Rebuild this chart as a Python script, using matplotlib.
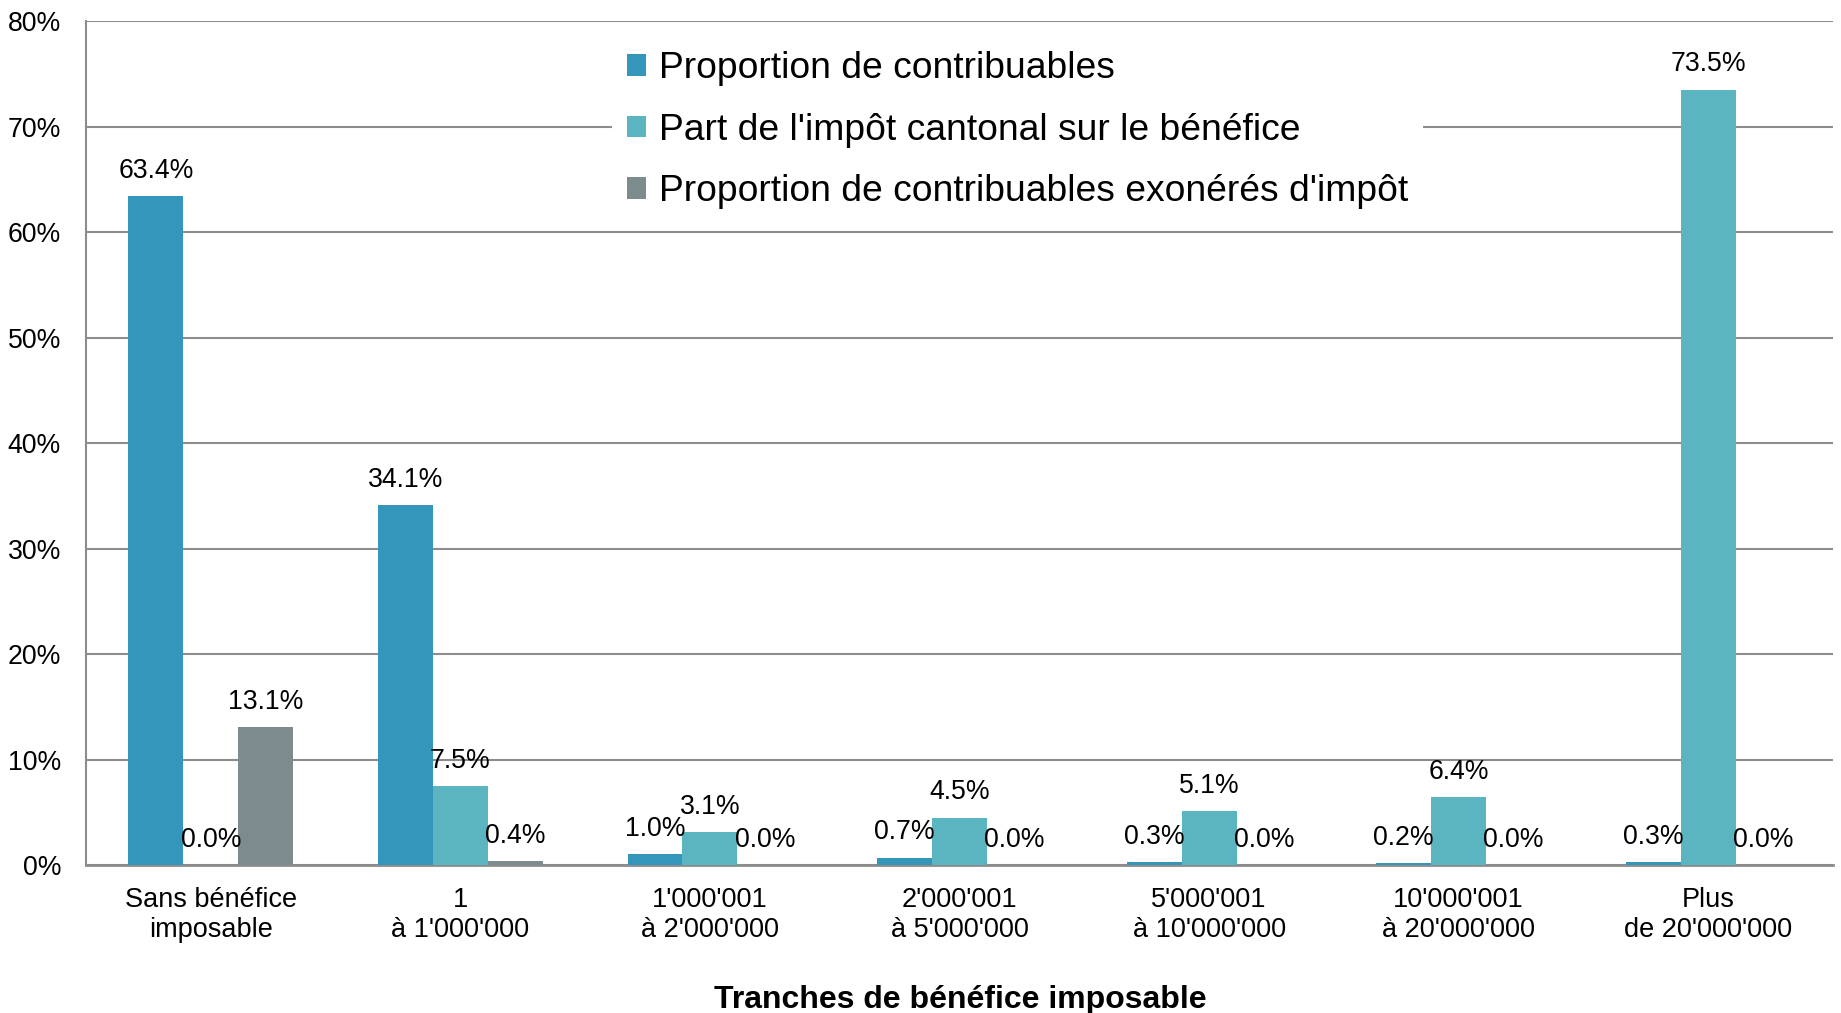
import numpy as np
import matplotlib
matplotlib.use('Agg')
import matplotlib.pyplot as plt
from matplotlib.patches import Patch

plt.rcParams['font.family'] = ['Liberation Sans', 'DejaVu Sans']

# donnees
categories = ['Sans bénéfice\nimposable', '1\nà 1\'000\'000', '1\'000\'001\nà 2\'000\'000',
              '2\'000\'001\nà 5\'000\'000', '5\'000\'001\nà 10\'000\'000',
              '10\'000\'001\nà 20\'000\'000', 'Plus\nde 20\'000\'000']
contribuables = [63.4, 34.1, 1.0, 0.7, 0.3, 0.2, 0.3]
impot_cantonal = [0.0, 7.5, 3.1, 4.5, 5.1, 6.4, 73.5]
exoneres = [13.1, 0.4, 0.0, 0.0, 0.0, 0.0, 0.0]
series_noms = ['Proportion de contribuables',
               "Part de l'impôt cantonal sur le bénéfice",
               "Proportion de contribuables exonérés d'impôt"]
couleurs = ['#3596BC', '#5AB5C0', '#7B8B8E']

fig = plt.figure(figsize=(18.41, 10.13), dpi=100)
ax = fig.add_axes([86 / 1841, 1 - 865 / 1013, (1833 - 86) / 1841, (865 - 21) / 1013])

x = np.arange(len(categories))
w = 0.22
grille = '#8C8C8C'

for i, (vals, nom, c) in enumerate(zip([contribuables, impot_cantonal, exoneres], series_noms, couleurs)):
    pos = x + (i - 1) * w
    ax.bar(pos, vals, width=w, color=c, label=nom, zorder=3)
    for p, v in zip(pos, vals):
        ax.annotate(f'{v:.1f}%', (p, v), xytext=(0, 18.2), textcoords='offset points',
                    ha='center', va='center', fontsize=19.2, zorder=5)

ax.set_xlim(-0.5, len(categories) - 0.5)
ax.set_ylim(0, 80)
ax.set_yticks(np.arange(0, 81, 10))
ax.set_yticklabels([f'{t}%' for t in range(0, 81, 10)])
ax.set_xticks(x)
ax.set_xticklabels(categories, linespacing=1.2)
ax.tick_params(axis='y', length=0, pad=18, labelsize=19.2)
ax.tick_params(axis='x', length=0, pad=16, labelsize=19.5)

ax.grid(axis='y', color=grille, linewidth=1.5, zorder=0)
ax.set_axisbelow(True)
for s in ['top', 'right']:
    ax.spines[s].set_visible(False)
ax.spines['left'].set_color(grille)
ax.spines['left'].set_linewidth(1.5)
ax.spines['bottom'].set_color(grille)
ax.spines['bottom'].set_linewidth(2)

handles = [Patch(facecolor=c) for c in couleurs]
leg = ax.legend(handles, series_noms, loc='upper left',
                bbox_to_anchor=(612 / 1841, 1 - 36 / 1013), bbox_transform=fig.transFigure,
                fontsize=26.8, frameon=True, facecolor='white', edgecolor='none', framealpha=1,
                fancybox=False, borderpad=0.4, borderaxespad=0, handlelength=0.52,
                handleheight=0.52, handletextpad=0.35, labelspacing=0.72)
leg.set_zorder(4)

fig.text(960 / 1841, 1 - 1000 / 1013, 'Tranches de bénéfice imposable', ha='center', va='center',
         fontsize=23, fontweight='bold')

fig.savefig('out.png', dpi=100)
